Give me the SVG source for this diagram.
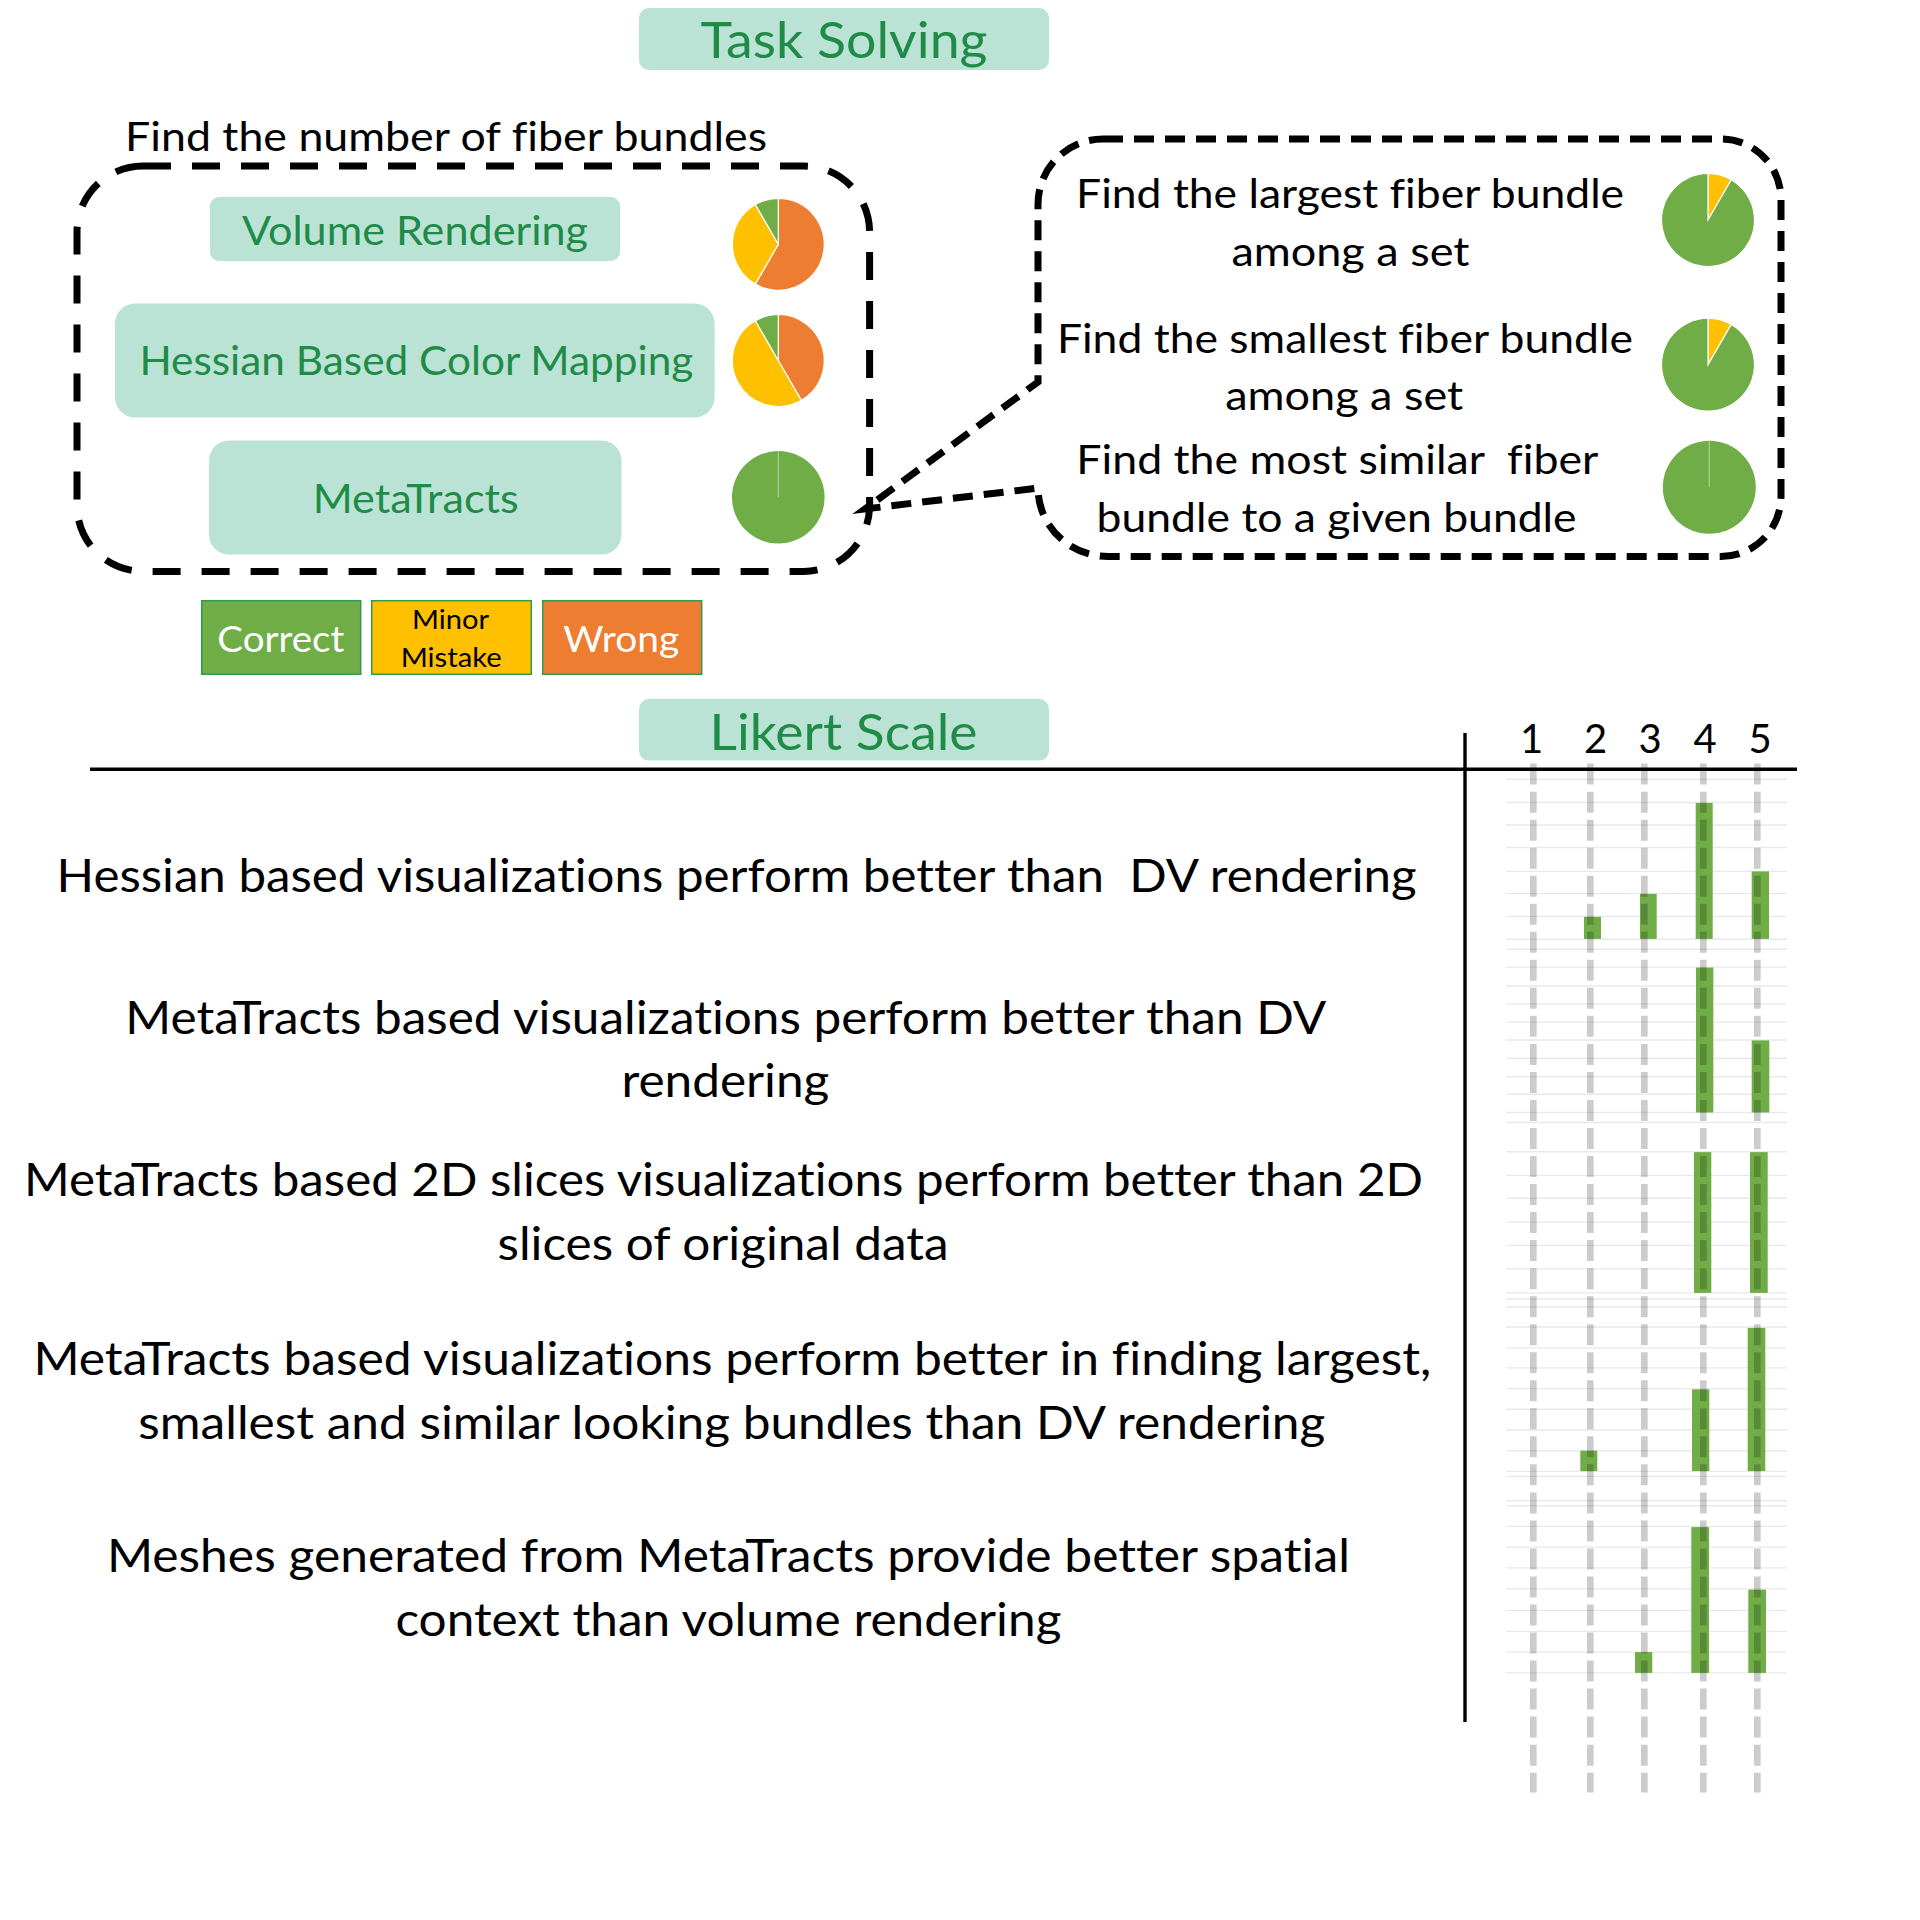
<svg xmlns="http://www.w3.org/2000/svg" width="1920" height="1920" viewBox="0 0 1920 1920">
<style>
text{font-family:Lato,"Open Sans","Liberation Sans",sans-serif;text-anchor:middle;font-variant-ligatures:none;font-feature-settings:"liga" 0}
.hdr{fill:#BAE3D5}
.gt{fill:#1F8B47}
.blk{fill:#000}
.wt{fill:#fff}
.t50{font-size:50px}
.t40{font-size:40px}
.t46{font-size:46px}
.t37{font-size:37px}
.t27{font-size:27.5px}
.g{fill:#70AD47}
.y{fill:#FFC000}
.o{fill:#ED7D31}
.sl{stroke:#fff;stroke-width:1.2}
.bar{fill:#70AD47}
.grid{stroke:#E9E9E9;stroke-width:1.4}
.gd{stroke:#000;stroke-opacity:0.2;stroke-width:6.7;stroke-dasharray:21 7.03;fill:none}
</style>
<rect width="1920" height="1920" fill="#fff"/>

<g id="task-solving-title">
<rect class="hdr" x="639" y="8" width="410" height="62" rx="10"/>
<text class="gt t50" x="844" y="58" textLength="287" lengthAdjust="spacingAndGlyphs">Task Solving</text>
</g>

<g id="count-task-label">
<text class="blk t40" x="446" y="151" textLength="642" lengthAdjust="spacingAndGlyphs">Find the number of fiber bundles</text>
</g>

<g id="count-task-frame">
<rect x="77" y="166" width="792.6" height="405.4" rx="66" ry="66" fill="none" stroke="#000" stroke-width="7" stroke-dasharray="28 21"/>
</g>

<g id="volume-rendering">
<rect class="hdr" x="210" y="197" width="410" height="64" rx="9"/>
<text class="gt t40" x="415" y="244.6" textLength="346" lengthAdjust="spacingAndGlyphs">Volume Rendering</text>
</g>
<g id="hessian-mapping">
<rect class="hdr" x="115" y="303.6" width="599.6" height="113.8" rx="20"/>
<text class="gt t40" x="416.4" y="375" textLength="554" lengthAdjust="spacingAndGlyphs">Hessian Based Color Mapping</text>
</g>
<g id="metatracts">
<rect class="hdr" x="209" y="440.6" width="412.5" height="114" rx="20"/>
<text class="gt t40" x="415.7" y="512.5" textLength="206" lengthAdjust="spacingAndGlyphs">MetaTracts</text>
</g>

<g id="pie-volume">
<path class="o sl" d="M778.3,244.3 L778.3,198.3 A46,46 0 1 1 755.3,284.14 Z"/>
<path class="y sl" d="M778.3,244.3 L755.3,284.14 A46,46 0 0 1 755.3,204.46 Z"/>
<path class="g sl" d="M778.3,244.3 L755.3,204.46 A46,46 0 0 1 778.3,198.3 Z"/>
</g>
<g id="pie-hessian">
<path class="o sl" d="M778.3,360.5 L778.3,314.5 A46,46 0 0 1 801.3,400.34 Z"/>
<path class="y sl" d="M778.3,360.5 L801.3,400.34 A46,46 0 0 1 755.3,320.66 Z"/>
<path class="g sl" d="M778.3,360.5 L755.3,320.66 A46,46 0 0 1 778.3,314.5 Z"/>
</g>
<g id="pie-metatracts">
<circle class="g" cx="778.3" cy="497.3" r="46.3"/>
<line x1="778.3" y1="451" x2="778.3" y2="497.3" stroke="#A9D08E" stroke-width="1.2"/>
</g>

<g id="legend">
<rect x="201.7" y="600.7" width="159" height="73.6" fill="#70AD47" stroke="#2F9A52" stroke-width="1.5"/>
<text class="wt t37" x="280.8" y="651.7" textLength="127" lengthAdjust="spacingAndGlyphs">Correct</text>
<rect x="371.7" y="600.7" width="159.6" height="73.6" fill="#FFC000" stroke="#2F9A52" stroke-width="1.5"/>
<text class="blk t27" x="450.5" y="629.3" textLength="77" lengthAdjust="spacingAndGlyphs">Minor</text>
<text class="blk t27" x="451.2" y="666.5" textLength="101" lengthAdjust="spacingAndGlyphs">Mistake</text>
<rect x="542.7" y="600.7" width="159" height="73.6" fill="#ED7D31" stroke="#2F9A52" stroke-width="1.5"/>
<text class="wt t37" x="621.2" y="651.7" textLength="116" lengthAdjust="spacingAndGlyphs">Wrong</text>
</g>

<g id="connectors">
<path d="M1103,139 H1721 A60,60 0 0 1 1781,199 V496.5 A60,60 0 0 1 1721,556.5 H1108 A70,68.5 0 0 1 1038,488 L865,509 L1038,382 V204 A65,65 0 0 1 1103,139 Z" fill="none" stroke="#000" stroke-width="7" stroke-dasharray="20 11"/>
</g>

<g id="subtask-largest">
<text class="blk t40" x="1350.1" y="207.6" textLength="548" lengthAdjust="spacingAndGlyphs">Find the largest fiber bundle</text>
<text class="blk t40" x="1350.4" y="265.6" textLength="238" lengthAdjust="spacingAndGlyphs">among a set</text>
<path class="y sl" d="M1708,220 L1708,173.5 A46.5,46.5 0 0 1 1731.25,179.73 Z"/>
<path class="g sl" d="M1708,220 L1731.25,179.73 A46.5,46.5 0 1 1 1708,173.5 Z"/>
</g>
<g id="subtask-smallest">
<text class="blk t40" x="1344.9" y="352.7" textLength="576" lengthAdjust="spacingAndGlyphs">Find the smallest fiber bundle</text>
<text class="blk t40" x="1344.2" y="409.8" textLength="238" lengthAdjust="spacingAndGlyphs">among a set</text>
<path class="y sl" d="M1708,364.7 L1708,318.2 A46.5,46.5 0 0 1 1731.25,324.43 Z"/>
<path class="g sl" d="M1708,364.7 L1731.25,324.43 A46.5,46.5 0 1 1 1708,318.2 Z"/>
</g>
<g id="subtask-similar">
<text class="blk t40" x="1337.3" y="474.1" textLength="522" lengthAdjust="spacingAndGlyphs" xml:space="preserve">Find the most similar  fiber</text>
<text class="blk t40" x="1336.6" y="532.1" textLength="480" lengthAdjust="spacingAndGlyphs">bundle to a given bundle</text>
<circle class="g" cx="1709.3" cy="487.3" r="46.5"/>
<line x1="1709.3" y1="440.8" x2="1709.3" y2="487.3" stroke="#A9D08E" stroke-width="1.2"/>
</g>

<g id="likert-title">
<rect class="hdr" x="639" y="699" width="410" height="61.6" rx="10"/>
<text class="gt t50" x="843.5" y="749.7" textLength="268" lengthAdjust="spacingAndGlyphs">Likert Scale</text>
</g>

<g id="likert-axes">
<line x1="90" y1="769.3" x2="1797" y2="769.3" stroke="#000" stroke-width="3.5"/>
<line x1="1465" y1="733" x2="1465" y2="1722" stroke="#000" stroke-width="3.4"/>
<text class="blk t40" x="1531.7" y="753">1</text>
<text class="blk t40" x="1595.7" y="753">2</text>
<text class="blk t40" x="1650" y="753">3</text>
<text class="blk t40" x="1705" y="753">4</text>
<text class="blk t40" x="1760" y="753">5</text>
</g>

<g id="likert-grid">
<path class="grid" d="M1506,779.3H1787M1506,802.5H1787M1506,825H1787M1506,847.5H1787M1506,871.4H1787M1506,893.6H1787M1506,916.4H1787M1506,939.3H1787M1506,949.3H1787M1506,967.1H1787M1506,986H1787M1506,1003.9H1787M1506,1022.1H1787M1506,1040H1787M1506,1058.2H1787M1506,1076.8H1787M1506,1094.3H1787M1506,1112.5H1787M1506,1122.5H1787M1506,1151.8H1787M1506,1175.4H1787M1506,1198.2H1787M1506,1222.1H1787M1506,1245.4H1787M1506,1268.9H1787M1506,1292.9H1787M1506,1299H1787M1506,1307H1787M1506,1327H1787M1506,1347.9H1787M1506,1367.9H1787M1506,1388.6H1787M1506,1409.3H1787M1506,1430H1787M1506,1450.7H1787M1506,1471.4H1787M1506,1476.4H1787M1506,1500.7H1787M1506,1505.7H1787M1506,1526.4H1787M1506,1547.1H1787M1506,1567.9H1787M1506,1588.9H1787M1506,1610.4H1787M1506,1631.4H1787M1506,1652.1H1787M1506,1672.9H1787"/>
</g>

<g id="statement-1">
<text class="blk t46" x="736.6" y="891.5" textLength="1360" lengthAdjust="spacingAndGlyphs" xml:space="preserve">Hessian based visualizations perform better than  DV rendering</text>
<rect class="bar" x="1584" y="916.8" width="17" height="22.1"/>
<rect class="bar" x="1640" y="893.9" width="16.7" height="45"/>
<rect class="bar" x="1695.7" y="802.9" width="17" height="136"/>
<rect class="bar" x="1751.7" y="871.4" width="17.3" height="67.5"/>
</g>
<g id="statement-2">
<text class="blk t46" x="725.8" y="1033.5" textLength="1201" lengthAdjust="spacingAndGlyphs">MetaTracts based visualizations perform better than DV</text>
<text class="blk t46" x="725.4" y="1096.8" textLength="208" lengthAdjust="spacingAndGlyphs">rendering</text>
<rect class="bar" x="1696" y="967.5" width="17.3" height="145"/>
<rect class="bar" x="1751.7" y="1040.4" width="17.6" height="72.1"/>
</g>
<g id="statement-3">
<text class="blk t46" x="723.5" y="1196.2" textLength="1399" lengthAdjust="spacingAndGlyphs">MetaTracts based 2D slices visualizations perform better than 2D</text>
<text class="blk t46" x="723" y="1260" textLength="451" lengthAdjust="spacingAndGlyphs">slices of original data</text>
<rect class="bar" x="1694" y="1152.1" width="17.3" height="140.8"/>
<rect class="bar" x="1750" y="1152.1" width="17.7" height="140.8"/>
</g>
<g id="statement-4">
<text class="blk t46" x="732.4" y="1374.7" textLength="1398" lengthAdjust="spacingAndGlyphs">MetaTracts based visualizations perform better in finding largest,</text>
<text class="blk t46" x="731.8" y="1438.5" textLength="1187" lengthAdjust="spacingAndGlyphs">smallest and similar looking bundles than DV rendering</text>
<rect class="bar" x="1580.3" y="1450.7" width="17" height="20.4"/>
<rect class="bar" x="1692" y="1389.3" width="17.3" height="81.8"/>
<rect class="bar" x="1747.7" y="1327.9" width="17.6" height="143.2"/>
</g>
<g id="statement-5">
<text class="blk t46" x="728.4" y="1572.4" textLength="1243" lengthAdjust="spacingAndGlyphs">Meshes generated from MetaTracts provide better spatial</text>
<text class="blk t46" x="728.4" y="1636.2" textLength="666" lengthAdjust="spacingAndGlyphs">context than volume rendering</text>
<rect class="bar" x="1635" y="1652.1" width="17.3" height="20.8"/>
<rect class="bar" x="1691.3" y="1527.1" width="17.7" height="145.8"/>
<rect class="bar" x="1748.3" y="1589.6" width="17.7" height="83.3"/>
</g>

<g id="likert-guides">
<path class="gd" d="M1533.3,763.6V1792.6M1590.3,763.6V1792.6M1644.3,763.6V1792.6M1703.3,763.6V1792.6M1757.3,763.6V1792.6"/>
</g>
</svg>
